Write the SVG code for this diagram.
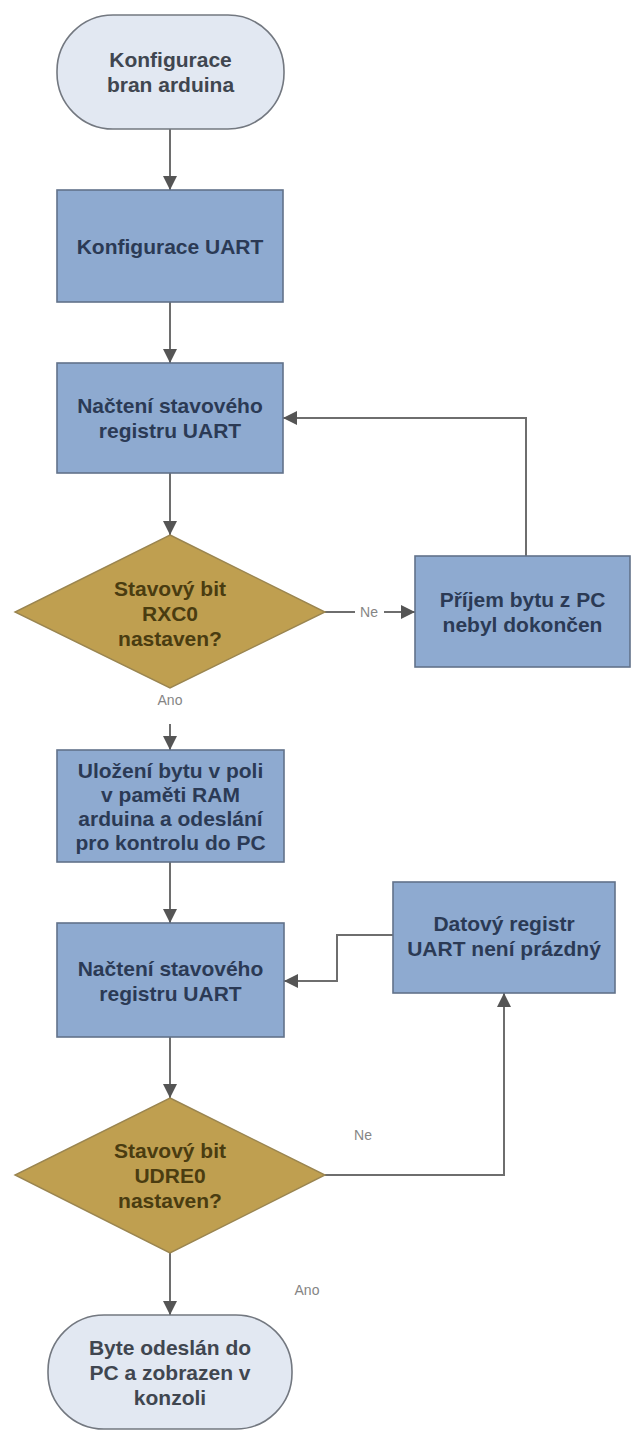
<svg xmlns="http://www.w3.org/2000/svg" width="632" height="1432" viewBox="0 0 632 1432">
<defs>
<style>
.term{fill:#e2e8f2;stroke:#737880;stroke-width:1.6}
.box{fill:#8eaad0;stroke:#62728a;stroke-width:1.6}
.dia{fill:#bf9f50;stroke:#9a8550;stroke-width:1.4}
.t{font-family:"Liberation Sans",Arial,sans-serif;font-weight:bold;font-size:21px;text-anchor:middle}
.tt{fill:#404650}
.tb{fill:#2b3a55}
.td{fill:#4a3c10}
.lbl{font-family:"Liberation Sans",Arial,sans-serif;font-size:14px;fill:#858585;text-anchor:middle}
.con{fill:none;stroke:#6e6e6e;stroke-width:2}
</style>
<marker id="ah" viewBox="0 0 10 10" refX="10" refY="5" markerWidth="14" markerHeight="14" markerUnits="userSpaceOnUse" orient="auto">
<path d="M0,0 L10,5 L0,10 z" fill="#555"/>
</marker>
</defs>
<rect width="632" height="1432" fill="#fff"/>
<g id="connectors">
<path class="con" d="M170,129 V190" marker-end="url(#ah)"/>
<path class="con" d="M170,302 V363" marker-end="url(#ah)"/>
<path class="con" d="M526,556 V418 H283" marker-end="url(#ah)"/>
<path class="con" d="M170,473 V535" marker-end="url(#ah)"/>
<path class="con" d="M325,612 H355"/>
<path class="con" d="M384,612 H415" marker-end="url(#ah)"/>
<path class="con" d="M170,724 V750" marker-end="url(#ah)"/>
<path class="con" d="M170,862 V923" marker-end="url(#ah)"/>
<path class="con" d="M393,935 H337 V981 H284" marker-end="url(#ah)"/>
<path class="con" d="M170,1037 V1098" marker-end="url(#ah)"/>
<path class="con" d="M325,1175 H504 V993" marker-end="url(#ah)"/>
<path class="con" d="M170,1253 V1315" marker-end="url(#ah)"/>
<text class="lbl" x="369" y="617">Ne</text>
<text class="lbl" x="170" y="705">Ano</text>
<text class="lbl" x="363" y="1140">Ne</text>
<text class="lbl" x="307" y="1295">Ano</text>
</g>
<g id="start">
<rect class="term" x="57" y="15" width="227" height="114" rx="56" ry="56"/>
<text class="t tt" x="170.5" y="67">Konfigurace</text>
<text class="t tt" x="170.5" y="92">bran arduina</text>
</g>
<g id="config-uart">
<rect class="box" x="57" y="190" width="226" height="112"/>
<text class="t tb" x="170" y="253.5">Konfigurace UART</text>
</g>
<g id="read-status-1">
<rect class="box" x="57" y="363" width="226" height="110"/>
<text class="t tb" x="170" y="412.5">Načtení stavového</text>
<text class="t tb" x="170" y="437.5">registru UART</text>
</g>
<g id="check-rxc0">
<polygon class="dia" points="170,535 325,612 170,688 15,612"/>
<text class="t td" x="170" y="595.5">Stavový bit</text>
<text class="t td" x="170" y="620.5">RXC0</text>
<text class="t td" x="170" y="645.5">nastaven?</text>
</g>
<g id="receive-incomplete">
<rect class="box" x="415" y="556" width="215" height="111"/>
<text class="t tb" x="522.5" y="606.5">Příjem bytu z PC</text>
<text class="t tb" x="522.5" y="631.5">nebyl dokončen</text>
</g>
<g id="store-byte">
<rect class="box" x="57" y="750" width="227" height="112"/>
<text class="t tb" x="170.5" y="777.5">Uložení bytu v poli</text>
<text class="t tb" x="170.5" y="801.5">v paměti RAM</text>
<text class="t tb" x="170.5" y="825.5">arduina a odeslání</text>
<text class="t tb" x="170.5" y="849.5">pro kontrolu do PC</text>
</g>
<g id="read-status-2">
<rect class="box" x="57" y="923" width="227" height="114"/>
<text class="t tb" x="170.5" y="975.5">Načtení stavového</text>
<text class="t tb" x="170.5" y="1000.5">registru UART</text>
</g>
<g id="data-not-empty">
<rect class="box" x="393" y="882" width="222" height="111"/>
<text class="t tb" x="504" y="930.5">Datový registr</text>
<text class="t tb" x="504" y="955.5">UART není prázdný</text>
</g>
<g id="check-udre0">
<polygon class="dia" points="170,1098 325,1175 170,1253 15,1175"/>
<text class="t td" x="170" y="1157.5">Stavový bit</text>
<text class="t td" x="170" y="1182.5">UDRE0</text>
<text class="t td" x="170" y="1207.5">nastaven?</text>
</g>
<g id="end">
<rect class="term" x="48" y="1315" width="244" height="114" rx="56" ry="56"/>
<text class="t tt" x="170" y="1354.5">Byte odeslán do</text>
<text class="t tt" x="170" y="1379.5">PC a zobrazen v</text>
<text class="t tt" x="170" y="1404.5">konzoli</text>
</g>
</svg>
